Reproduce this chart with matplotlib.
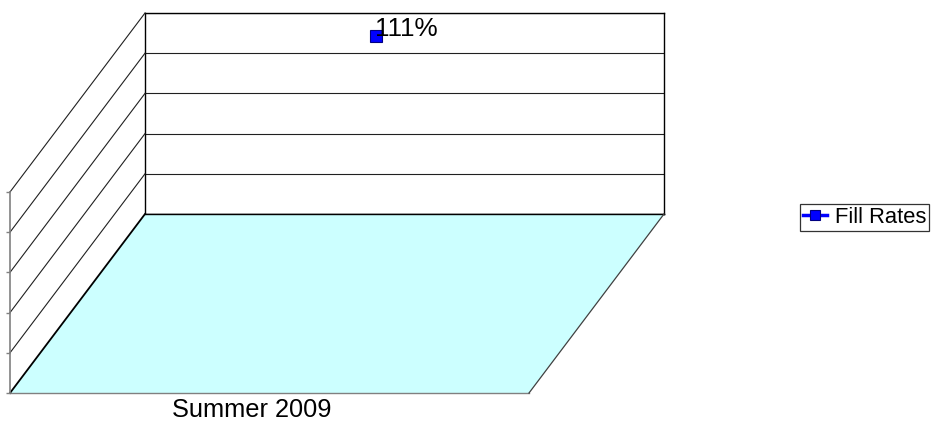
import matplotlib
matplotlib.use('Agg')
import matplotlib.pyplot as plt
from matplotlib.transforms import Affine2D
from matplotlib.patches import Polygon
from matplotlib.lines import Line2D

# ---- data ----
categories = ['Summer 2009']
fill_rates = [1.11]
point_labels = ['111%']
series_name = 'Fill Rates'
value_ticks = [0.0, 0.25, 0.5, 0.75, 1.0, 1.25]

plt.rcParams['font.family'] = ['Liberation Sans', 'DejaVu Sans']

W, H = 934, 423
fig = plt.figure(figsize=(W / 100, H / 100), dpi=100)
fig.patch.set_facecolor('white')

# back wall geometry (pixels)
wall_l, wall_r, wall_t, wall_b = 145, 664, 13, 214
depth_dx, depth_dy = -135, -179      # display offset of the front plane

ax = fig.add_axes([wall_l / W, 1 - wall_b / H, (wall_r - wall_l) / W, (wall_b - wall_t) / H])
ax.set_xlim(0, 1)
ax.set_ylim(value_ticks[0], value_ticks[-1])
ax.set_yticks(value_ticks)
ax.set_xticks([])
ax.tick_params(left=False, labelleft=False)
ax.grid(axis='y', color='#202020', lw=0.8)
ax.set_axisbelow(True)
for s in ax.spines.values():
    s.set_color('black')
    s.set_linewidth(1.0)

ox, oy = wall_l, H - wall_b
wall_w = wall_r - wall_l
v_unit = (wall_b - wall_t) / (value_ticks[-1] - value_ticks[0])

# floor: coords (x fraction, depth)
floor_T = Affine2D.from_values(wall_w, 0, depth_dx, depth_dy, ox, oy)
# side wall: coords (depth, value)
side_T = Affine2D.from_values(depth_dx, depth_dy, 0, v_unit, ox, oy)

floor = Polygon([(0, 0), (1, 0), (1, 1), (0, 1)], closed=True,
                facecolor='#CCFFFF', edgecolor='none', transform=floor_T, clip_on=False)
fig.add_artist(floor)
fig.add_artist(Line2D([0, 1], [0, 0], color='black', lw=1.0, transform=floor_T))
fig.add_artist(Line2D([0, 1], [1, 1], color='#808080', lw=1.0, transform=floor_T))
fig.add_artist(Line2D([1, 1], [0, 1], color='#404040', lw=0.9, transform=floor_T))

# side wall gridlines
for i, v in enumerate(value_ticks):
    lw = 1.3 if i == 0 else 0.8
    col = 'black' if i == 0 else '#202020'
    fig.add_artist(Line2D([0, 1], [v, v], color=col, lw=lw, transform=side_T))
fig.add_artist(Line2D([1, 1], [value_ticks[0], value_ticks[-1]], color='#808080', lw=1.2,
                      transform=side_T))
fig.add_artist(Line2D([1] * len(value_ticks), value_ticks, ls='none', marker=0, ms=3,
                      mew=1.0, color='#808080', transform=side_T))

# series point
marker_x = 0.445
ax.plot([marker_x] * len(fill_rates), fill_rates, color='#0000FF', marker='s', ms=9,
        mec='#000080', mew=0.8, lw=2, clip_on=False, zorder=5)
for val, lab in zip(fill_rates, point_labels):
    ax.annotate(lab, (marker_x, val), xytext=(-1, 5), textcoords='offset points',
                ha='left', va='center', fontsize=18.8, color='black', zorder=6)

# category label
cat_x = 0.466
for c in categories:
    fig.text(cat_x, 1, c, transform=floor_T + Affine2D().translate(0, -5),
             ha='center', va='top', fontsize=18.3, color='black')

# legend
handle = Line2D([], [], color='#0000FF', marker='s', ms=7, mec='#000080', mew=0.8, lw=2.5)
leg = fig.legend(handles=[handle], labels=[series_name], loc='center',
                 bbox_to_anchor=(864.5 / W, 1 - 217.5 / H), frameon=True, fancybox=False,
                 edgecolor='black', fontsize=15.8, handlelength=1.1, borderpad=0.12,
                 handletextpad=0.35, borderaxespad=0)
leg.get_frame().set_linewidth(0.9)

fig.savefig('out.png', dpi=100, facecolor='white')
